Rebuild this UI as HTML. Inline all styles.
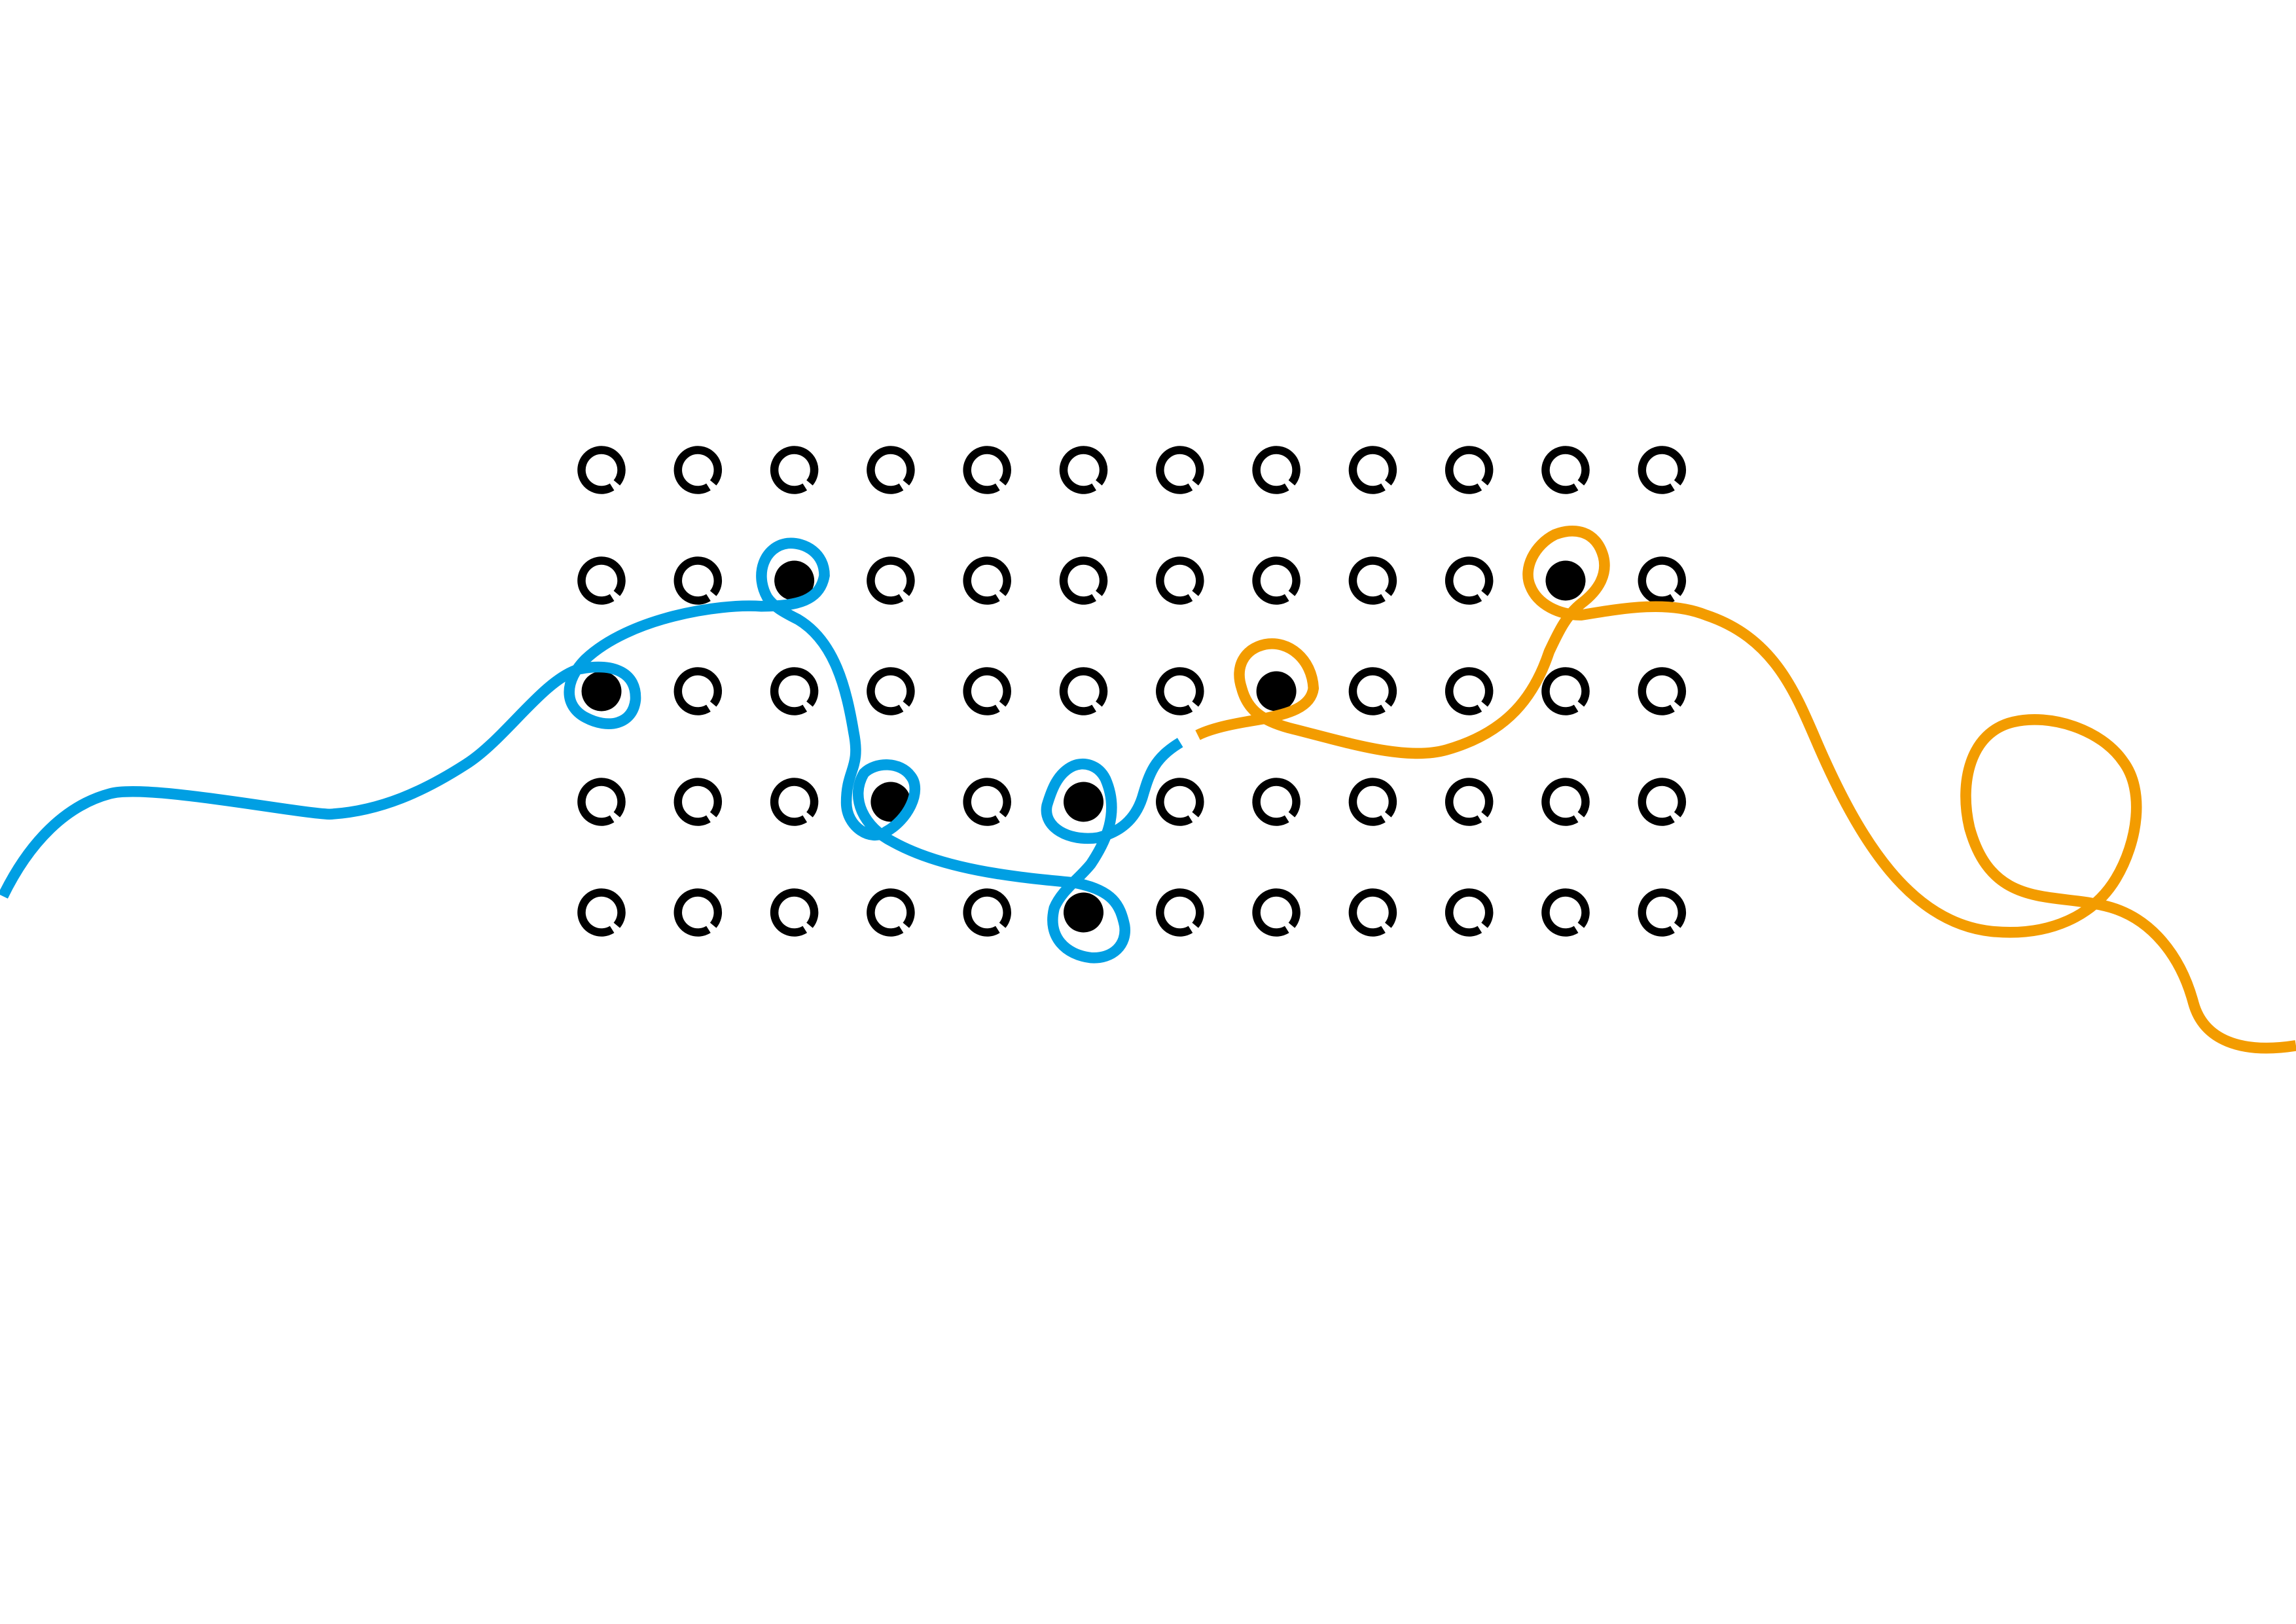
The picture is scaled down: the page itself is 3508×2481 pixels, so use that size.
<!DOCTYPE html>
<html><head><meta charset="utf-8"><style>
html,body{margin:0;padding:0;background:#fff;}
svg{display:block;}
</style></head><body>
<svg id="chart" width="3508" height="2481" viewBox="0 0 3508 2481" xmlns="http://www.w3.org/2000/svg">
<rect width="3508" height="2481" fill="#fff"/>
<g id="grid"></g>
<g transform="scale(2.2372)">
<path fill="none" stroke="#009fe3" stroke-width="7.4" stroke-linecap="butt"
d="M2,612 C20,575 45,550 75,542 C100,535 200,555 225,556 C260,554 290,540 318,522 C345,505 370,465 395,457 C420,452 435,460 434,478 C432,495 415,498 400,490 C385,482 385,465 400,450 C430,422 490,412 520,414 C545,414 560,410 563,393 C563,378 550,370 538,371 C522,373 515,392 524,408 C528,414 535,418 545,423 C570,438 578,470 583,500 C588,525 578,525 578,548 C578,565 595,575 605,568 C620,560 630,540 622,530 C615,520 598,520 590,528 C580,545 590,565 610,575 C650,597 710,600 735,603 C760,608 765,618 768,632 C770,645 760,655 745,654 C728,652 715,640 720,620 C725,608 737,600 745,590 C755,575 765,555 755,532 C750,522 740,520 733,523 C722,528 718,540 715,550 C712,565 730,575 750,572 C765,568 775,560 780,545 C785,528 788,518 806,507"/>
<path fill="none" stroke="#f39c00" stroke-width="7.4"
d="M818,502 C830,496 850,493 862,491 C875,488 895,485 897,470 C896,450 880,437 864,440 C850,443 843,455 848,470 C852,485 862,492 880,497 C920,507 960,520 988,512 C1030,500 1048,475 1058,445 C1065,430 1070,420 1080,412 C1092,403 1098,392 1095,380 C1090,362 1075,360 1062,365 C1048,372 1040,388 1045,400 C1050,413 1065,420 1080,420 C1110,415 1140,410 1165,420 C1210,435 1225,470 1240,505 C1270,575 1305,630 1360,636 C1400,640 1430,625 1445,600 C1460,575 1465,540 1450,520 C1435,498 1400,487 1375,493 C1345,500 1338,535 1345,565 C1360,620 1400,610 1435,618 C1470,625 1490,655 1498,685 C1505,710 1530,720 1568,714"/>
</g>
</svg>
<script>
const cols = [0,1,2,3,4,5,6,7,8,9,10,11];
const rows = [0,1,2,3,4];
const filledCols = [2,0,3,5,5,7,10];
const filledRows = [1,2,3,3,4,2,1];
const NS='http://www.w3.org/2000/svg';
const g=document.getElementById('grid');
const xs=c=>919+c*147.3, ys=r=>718+r*169;
const isFilled=(c,r)=>filledCols.some((fc,i)=>fc===c&&filledRows[i]===r);
rows.forEach(r=>cols.forEach(c=>{
  const cx=xs(c), cy=ys(r);
  if(isFilled(c,r)){
    const d=document.createElementNS(NS,'circle');
    d.setAttribute('cx',cx);d.setAttribute('cy',cy);d.setAttribute('r',30.5);d.setAttribute('fill','#000');
    
    
    g.appendChild(d);
  } else {
    const R=30.5, a1=40*Math.PI/180, a2=58*Math.PI/180;
    const p=document.createElementNS(NS,'path');
    p.setAttribute('d',`M${cx+R*Math.cos(a2)},${cy+R*Math.sin(a2)} A${R},${R} 0 1 1 ${cx+R*Math.cos(a1)},${cy+R*Math.sin(a1)}`);
    p.setAttribute('fill','none');p.setAttribute('stroke','#000');p.setAttribute('stroke-width',12.5);
    
    
    g.appendChild(p);
  }
}));
</script>
</body></html>
